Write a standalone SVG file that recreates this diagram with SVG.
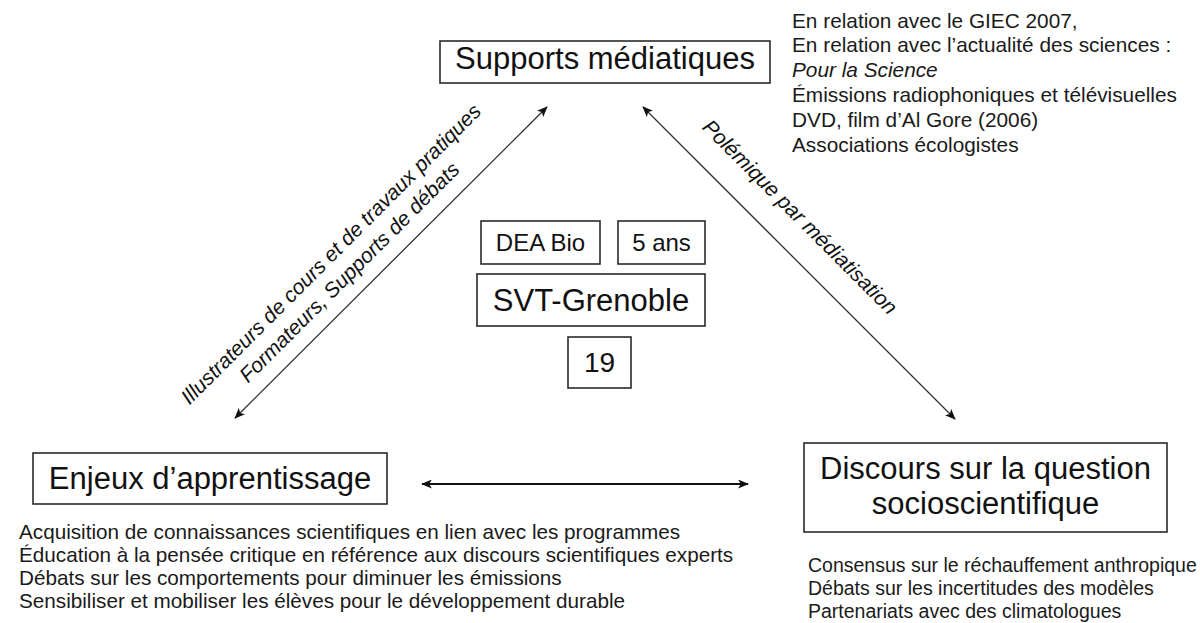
<svg xmlns="http://www.w3.org/2000/svg" width="1200" height="623" viewBox="0 0 1200 623">
  <defs>
    <marker id="ah" viewBox="0 0 12 10" refX="11" refY="5" markerWidth="11" markerHeight="9" markerUnits="userSpaceOnUse" orient="auto-start-reverse">
      <path d="M0,0 L12,5 L0,10 L3,5 Z" fill="#111"/>
    </marker>
  </defs>
  <style>
    text { font-family: "Liberation Sans", Arial, sans-serif; fill: #111; }
    .box { fill: #fff; stroke: #2a2a2a; stroke-width: 1.6; }
    .big { font-size: 31px; }
    .mid { font-size: 24px; }
    .small { font-size: 20.8px; fill: #1a1a1a; }
    .bl { font-size: 20.7px; }
    .br { font-size: 19.5px; }
    .lbl { font-size: 21px; font-style: italic; }
    .edge { stroke: #333; stroke-width: 1.3; fill: none; }
    .edge2 { stroke: #111; stroke-width: 2; fill: none; }
  </style>
  <rect width="1200" height="623" fill="#fff"/>

  <g id="connectors">
    <line class="edge" x1="235" y1="418" x2="547" y2="107" marker-start="url(#ah)" marker-end="url(#ah)"/>
    <line class="edge" x1="643" y1="107" x2="955" y2="419" marker-start="url(#ah)" marker-end="url(#ah)"/>
    <line class="edge2" x1="422" y1="484" x2="748" y2="484" marker-start="url(#ah)" marker-end="url(#ah)"/>
    <g transform="translate(336,259) rotate(-45)">
      <text class="lbl" x="0" y="0" text-anchor="middle">Illustrateurs de cours et de travaux pratiques</text>
      <text class="lbl" x="0" y="26" text-anchor="middle">Formateurs, Supports de débats</text>
    </g>
    <g transform="translate(795,222) rotate(45)">
      <text class="lbl" x="0" y="0" text-anchor="middle">Polémique par médiatisation</text>
    </g>
  </g>

  <g id="supports">
    <rect class="box" x="440" y="41" width="330" height="42"/>
    <text class="big" x="605" y="69" text-anchor="middle">Supports médiatiques</text>
    <text class="small" x="792" y="27.5">En relation avec le GIEC 2007,</text>
    <text class="small" x="792" y="52.3">En relation avec l’actualité des sciences :</text>
    <text class="small" x="792" y="77.1" font-style="italic">Pour la Science</text>
    <text class="small" x="792" y="101.9">Émissions radiophoniques et télévisuelles</text>
    <text class="small" x="792" y="126.7">DVD, film d’Al Gore (2006)</text>
    <text class="small" x="792" y="151.5">Associations écologistes</text>
  </g>

  <g id="enjeux">
    <rect class="box" x="33" y="453" width="354" height="51"/>
    <text class="big" x="210" y="489" text-anchor="middle">Enjeux d’apprentissage</text>
    <text class="small bl" x="19" y="539">Acquisition de connaissances scientifiques en lien avec les programmes</text>
    <text class="small bl" x="19" y="562">Éducation à la pensée critique en référence aux discours scientifiques experts</text>
    <text class="small bl" x="19" y="585">Débats sur les comportements pour diminuer les émissions</text>
    <text class="small bl" x="19" y="608">Sensibiliser et mobiliser les élèves pour le développement durable</text>
  </g>

  <g id="discours">
    <rect class="box" x="804" y="443" width="363" height="89"/>
    <text class="big" x="985.5" y="479" text-anchor="middle">Discours sur la question</text>
    <text class="big" x="985.5" y="514" text-anchor="middle">socioscientifique</text>
    <text class="small br" x="808" y="572">Consensus sur le réchauffement anthropique</text>
    <text class="small br" x="808" y="595">Débats sur les incertitudes des modèles</text>
    <text class="small br" x="808" y="618">Partenariats avec des climatologues</text>
  </g>

  <g id="dea">
    <rect class="box" x="481" y="221" width="119" height="43"/>
    <text class="mid" x="540.5" y="251" text-anchor="middle">DEA Bio</text>
  </g>
  <g id="ans">
    <rect class="box" x="618" y="221" width="87" height="43"/>
    <text class="mid" x="661.5" y="251" text-anchor="middle">5 ans</text>
  </g>
  <g id="svt">
    <rect class="box" x="477" y="274" width="228" height="52"/>
    <text class="big" x="591" y="311" text-anchor="middle">SVT-Grenoble</text>
  </g>
  <g id="n19">
    <rect class="box" x="568" y="337" width="63" height="51"/>
    <text x="599.5" y="372" text-anchor="middle" style="font-size:28px">19</text>
  </g>
</svg>
